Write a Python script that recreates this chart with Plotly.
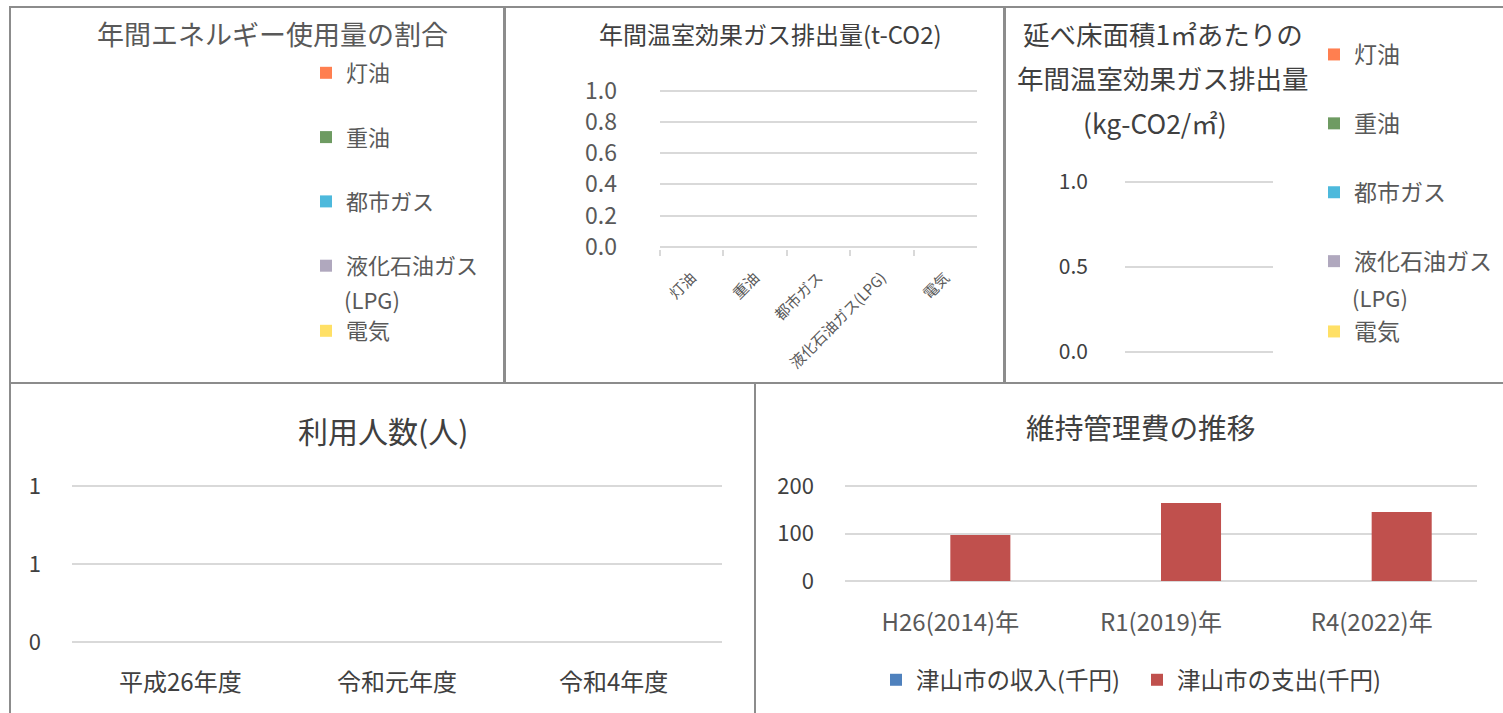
import plotly.graph_objects as go

W, H = 1503, 713


def px(x):
    return x / W


def py(y):
    return 1 - y / H


# ---------------- data ----------------
fuels = ["灯油", "重油", "都市ガス", "液化石油ガス(LPG)", "電気"]
fuel_legend_names = ["灯油", "重油", "都市ガス", "液化石油ガス", "電気"]
lpg_suffix = "(LPG)"   # wrapped second line of the LPG legend entry
fuel_colors = ["#FF7F50", "#6E9B62", "#4DB9DC", "#B0A8BE", "#FFE066"]
energy_share = [0, 0, 0, 0, 0]          # 年間エネルギー使用量の割合
ghg_emission = [0, 0, 0, 0, 0]          # t-CO2
ghg_per_area = [0, 0, 0, 0, 0]          # kg-CO2/㎡

users_years = ["平成26年度", "令和元年度", "令和4年度"]
users = [0, 0, 0]
users_tickvals = [0, 0.5, 1]
users_ticktext = ["0", "1", "1"]

cost_years = ["H26(2014)年", "R1(2019)年", "R4(2022)年"]
income = [0, 0, 0]
expense = [97, 164, 145]

FONT = "Noto Sans CJK JP"
GRID = "#D9D9D9"
GREY = "#595959"
DARK = "#404040"


def vaxis(top_px, bot_px, v0, v1, pad=2):
    """domain/range so that v0..v1 spans bot_px..top_px, with a small pad
    so that the end grid lines are drawn."""
    d = (v1 - v0) * pad / (bot_px - top_px)
    return dict(domain=[py(bot_px + pad), py(top_px - pad)],
                range=[v0 - d, v1 + d])


fig = go.Figure()

# ---------- panel 1 : energy share (no data, legend only) ----------
for i in range(5):
    fig.add_trace(go.Bar(
        x=[fuels[i]], y=[energy_share[i]], name=fuel_legend_names[i],
        marker_color=fuel_colors[i], xaxis="x5", yaxis="y5",
        legend="legend" if i < 4 else "legend2",
        legendgroup="p1_%d" % i, showlegend=True, hoverinfo="skip",
    ))

# ---------- panel 2 : GHG emission ----------
fig.add_trace(go.Bar(x=fuels, y=ghg_emission, marker_color="#4F81BD",
                     xaxis="x", yaxis="y", showlegend=False))

# ---------- panel 3 : GHG per area ----------
for i in range(5):
    fig.add_trace(go.Bar(
        x=[""], y=[ghg_per_area[i]], name=fuel_legend_names[i],
        marker_color=fuel_colors[i], xaxis="x2", yaxis="y2",
        legend="legend3" if i < 4 else "legend4",
        legendgroup="p3_%d" % i, showlegend=True,
    ))

# ---------- panel 4 : users ----------
fig.add_trace(go.Bar(x=users_years, y=users, marker_color="#4F81BD",
                     xaxis="x3", yaxis="y3", showlegend=False))

# ---------- panel 5 : maintenance cost ----------
fig.add_trace(go.Bar(x=cost_years, y=income, name="津山市の収入(千円)",
                     marker_color="#4F81BD", xaxis="x4", yaxis="y4",
                     legend="legend5"))
fig.add_trace(go.Bar(x=cost_years, y=expense, name="津山市の支出(千円)",
                     marker_color="#C0504D", xaxis="x4", yaxis="y4",
                     legend="legend5"))

# ---------- layout ----------
shapes = []
for (x0, y0, x1, y1) in [(10, 7, 504, 383), (505, 7, 1004, 383),
                         (1005, 7, 1510, 383), (10, 383, 755, 720),
                         (755, 383, 1510, 720)]:
    shapes.append(dict(type="rect", xref="paper", yref="paper",
                       x0=px(x0), x1=px(x1), y0=py(y1), y1=py(y0),
                       line=dict(color="#8C8C8C", width=2),
                       fillcolor="rgba(0,0,0,0)", layer="above"))

annotations = []


def text(txt, x, y, size, color, anchor="center"):
    annotations.append(dict(text=txt, x=px(x), y=py(y), xref="paper",
                            yref="paper", showarrow=False, xanchor=anchor,
                            yanchor="middle", borderpad=0,
                            font=dict(family=FONT, size=size, color=color)))


text("年間エネルギー使用量の割合", 272, 33, 27, GREY)
text("年間温室効果ガス排出量(t-CO2)", 770, 33, 24, DARK)
text("延べ床面積1㎡あたりの", 1163, 33, 26.5, DARK)
text("年間温室効果ガス排出量", 1163, 77, 26.5, DARK)
text("(kg-CO2/㎡)", 1155, 122, 26.5, DARK)
text("利用人数(人)", 383, 430, 30, DARK)
text("維持管理費の推移", 1141, 427, 28.7, DARK)
# wrapped second line of the "液化石油ガス(LPG)" legend entries
text(lpg_suffix, 343, 299, 22, GREY, anchor="left")
text(lpg_suffix, 1351, 297, 22, GREY, anchor="left")

leg_common = dict(bgcolor="rgba(0,0,0,0)", borderwidth=0,
                  traceorder="grouped", valign="middle",
                  xanchor="left", yanchor="top", itemclick=False)

ax_off = dict(showgrid=False, showline=False, zeroline=False, ticks="")
grid = dict(showgrid=True, gridcolor=GRID, gridwidth=1.5, showline=False)

fig.update_layout(
    template="none",
    width=W, height=H,
    margin=dict(l=0, r=0, t=0, b=0),
    paper_bgcolor="white", plot_bgcolor="rgba(0,0,0,0)",
    font=dict(family=FONT, color=GREY),
    barmode="group", bargap=0.43, bargroupgap=0,
    shapes=shapes, annotations=annotations,
    # panel 1 hidden axes
    xaxis5=dict(domain=[px(20), px(300)], anchor="y5", visible=False),
    yaxis5=dict(domain=[py(370), py(70)], anchor="x5", visible=False,
                range=[0, 1]),
    # panel 2 axes
    xaxis=dict(domain=[px(660), px(977)], anchor="y", type="category",
               range=[-0.5, 4.5], tickangle=-45,
               tickfont=dict(size=15, color=GREY), ticks="outside",
               tickson="boundaries", ticklen=6, tickcolor=GRID, tickwidth=1.5,
               ticklabelstandoff=16,
               showline=False, showgrid=False, zeroline=False,
               fixedrange=True),
    yaxis=dict(anchor="x", dtick=0.2, tickformat=".1f", zeroline=True,
               zerolinecolor=GRID, zerolinewidth=1.5,
               tickfont=dict(size=23, color=GREY), ticklabelstandoff=42,
               **grid, **vaxis(90.5, 247, 0, 1)),
    # panel 3 axes
    xaxis2=dict(domain=[px(1125), px(1273)], anchor="y2", range=[-0.5, 0.5],
                showticklabels=False, **ax_off),
    yaxis2=dict(anchor="x2", dtick=0.5, tickformat=".1f", zeroline=False,
                tickfont=dict(size=21, color=DARK), ticklabelstandoff=36,
                **grid, **vaxis(182, 352, 0, 1)),
    # panel 4 axes
    xaxis3=dict(domain=[px(72), px(722)], anchor="y3", type="category",
                range=[-0.5, 2.5], tickfont=dict(size=24, color=DARK),
                ticklabelstandoff=22, **ax_off),
    yaxis3=dict(anchor="x3", tickvals=users_tickvals,
                ticktext=users_ticktext, zeroline=False,
                tickfont=dict(size=22, color=DARK), ticklabelstandoff=30,
                **grid, **vaxis(486, 642, 0, 1)),
    # panel 5 axes
    xaxis4=dict(domain=[px(845), px(1477)], anchor="y4", type="category",
                range=[-0.5, 2.5], tickfont=dict(size=24, color=GREY),
                ticklabelstandoff=23, **ax_off),
    yaxis4=dict(anchor="x4", dtick=100, zeroline=False,
                tickfont=dict(size=22, color=DARK), ticklabelstandoff=30,
                **grid, **vaxis(486, 581, 0, 200)),
    legend=dict(x=px(306), y=py(52), tracegroupgap=32.7,
                font=dict(family=FONT, size=22, color=GREY), **leg_common),
    legend2=dict(x=px(306), y=py(310),
                 font=dict(family=FONT, size=22, color=GREY), **leg_common),
    legend3=dict(x=px(1314), y=py(33), tracegroupgap=36,
                 font=dict(family=FONT, size=23, color=GREY), **leg_common),
    legend4=dict(x=px(1314), y=py(310),
                 font=dict(family=FONT, size=23, color=GREY), **leg_common),
    legend5=dict(x=px(876), y=py(658), orientation="h",
                 entrywidth=216, entrywidthmode="pixels",
                 bgcolor="rgba(0,0,0,0)", xanchor="left", yanchor="top",
                 itemclick=False,
                 font=dict(family=FONT, size=23.5, color=DARK)),
)

fig.write_html("out.html",
               config={"displayModeBar": False},
               post_script="document.body.style.margin='0';"
                           "document.body.style.overflow='hidden';")
